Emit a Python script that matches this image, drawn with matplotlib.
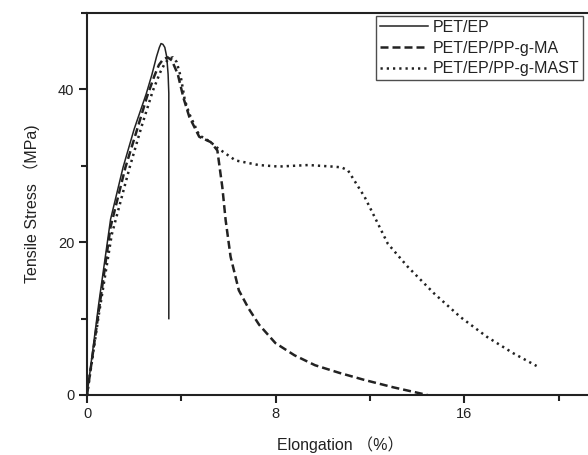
import matplotlib
matplotlib.use("Agg")
import matplotlib.pyplot as plt
from matplotlib.ticker import MultipleLocator

plt.rcParams['font.family'] = ['Liberation Sans', 'Noto Sans CJK SC', 'DejaVu Sans']

# PET/EP
x_pet = [0, 0.5, 1.0, 1.53, 2.0, 2.51, 2.75, 2.95, 3.07, 3.14, 3.22, 3.3, 3.38, 3.44, 3.47, 3.47]
y_pet = [0, 12.0, 23.0, 29.8, 34.8, 39.4, 41.9, 44.3, 45.5, 46.0, 45.9, 45.5, 44.3, 42.0, 39.5, 10.0]

# PET/EP/PP-g-MA
x_ma = [0, 0.5, 1.0, 1.63, 2.1, 2.54, 2.85, 3.05, 3.22, 3.42, 3.6, 3.85, 4.1, 4.34, 4.76, 5.25, 5.53,
        5.74, 5.88, 6.09, 6.44, 6.86, 7.3, 7.99, 8.8, 9.67, 10.7, 11.78, 13.0, 14.44]
y_ma = [0, 11.0, 22.0, 29.8, 34.5, 39.0, 41.7, 43.2, 43.9, 44.2, 43.8, 42.0, 38.8, 36.4, 33.8, 33.1, 32.0,
        27.2, 22.9, 18.1, 13.7, 11.3, 9.2, 6.8, 5.2, 3.9, 2.9, 1.96, 1.0, 0]

# PET/EP/PP-g-MAST
x_mast = [0, 0.5, 1.05, 1.81, 2.3, 2.79, 3.1, 3.3, 3.47, 3.64, 3.8, 3.98, 4.15, 4.34, 4.76, 5.25, 5.46,
          6.3, 7.28, 8.13, 9.39, 10.4, 10.79, 11.07, 11.78, 12.2, 12.76, 13.6, 14.72,
          15.84, 16.97, 18.09, 19.07]
y_mast = [0, 10.5, 21.0, 29.8, 35.0, 39.8, 42.2, 43.4, 44.0, 44.2, 43.6, 41.6, 38.6, 36.8, 34.0, 33.1, 32.5,
          30.7, 30.1, 29.9, 30.1, 29.9, 29.8, 29.4, 25.9, 23.3, 19.8, 16.8, 13.3,
          10.2, 7.6, 5.45, 3.8]

labels = ["PET/EP", "PET/EP/PP-g-MA", "PET/EP/PP-g-MAST"]
x_ticks = [0, 8, 16]
y_ticks = [0, 20, 40]

fig = plt.figure(figsize=(5.88, 4.55), dpi=100)
ax = fig.add_axes([87/588, 1-395/455, 1-87/588 + 0.01, (395-13)/455])

c = '#222222'
ax.plot(x_pet, y_pet, color=c, lw=1.1, ls='-', label=labels[0])
ax.plot(x_ma, y_ma, color=c, lw=1.8, ls=(0, (3.2, 1.6)), label=labels[1])
ax.plot(x_mast, y_mast, color=c, lw=1.8, ls=(0, (0.9, 1.6)), label=labels[2])

ax.set_xlim(0, 21.5)
ax.set_ylim(0, 50)
ax.set_xticks(x_ticks)
ax.set_yticks(y_ticks)
ax.xaxis.set_minor_locator(MultipleLocator(4))
ax.yaxis.set_minor_locator(MultipleLocator(10))
for s in ['left', 'bottom', 'top', 'right']:
    ax.spines[s].set_linewidth(1.5)
    ax.spines[s].set_color(c)
ax.tick_params(which='major', direction='out', length=6, width=1.5, color=c,
               labelsize=10.5, pad=3, labelcolor=c)
ax.tick_params(which='minor', direction='out', length=4, width=1.5, color=c)
ax.tick_params(top=False, right=False, which='both')

ax.set_xlabel("Elongation （%）", fontsize=11.5, color=c, labelpad=11)
ax.set_ylabel("Tensile Stress （MPa)", fontsize=11.5, color=c, labelpad=13)

leg = ax.legend(loc='upper right', bbox_to_anchor=(583/588, 1-16/455),
                bbox_transform=fig.transFigure, borderaxespad=0, borderpad=0.25,
                fontsize=11.5, handlelength=3.0, handletextpad=0.3,
                labelspacing=0.35, frameon=True, fancybox=False)
leg.get_frame().set_edgecolor(c)
leg.get_frame().set_linewidth(1.0)
for t in leg.get_texts():
    t.set_color(c)

fig.savefig("out.png", dpi=100)
